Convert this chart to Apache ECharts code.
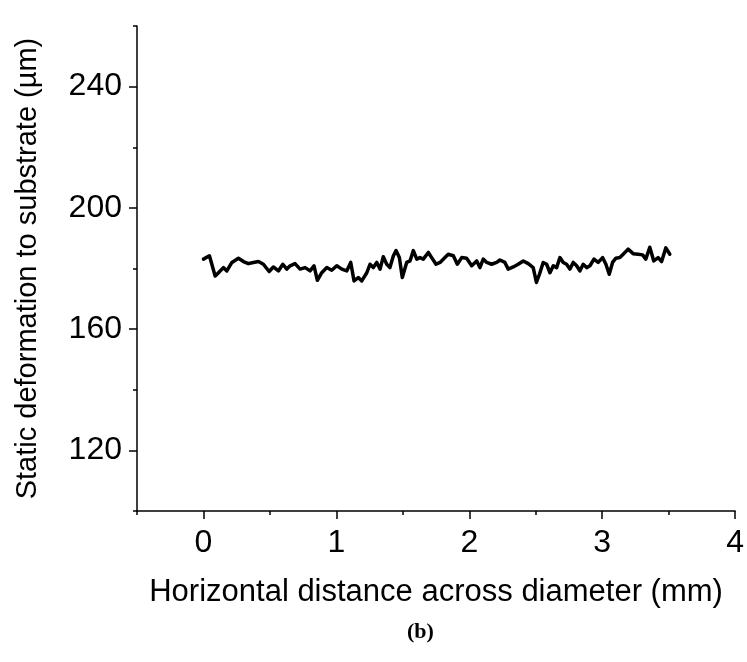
<!DOCTYPE html>
<html>
<head>
<meta charset="utf-8">
<script src="https://cdn.jsdelivr.net/npm/echarts@6/dist/echarts.min.js"></script>
<style>
html,body{margin:0;padding:0;background:#fff;}
#chart{width:747px;height:662px;}
</style>
</head>
<body>
<div id="chart"></div>
<script>
// Horizontal distance (mm)
const distance = [0.000,0.045,0.088,0.113,0.150,0.176,0.214,0.263,0.301,0.338,0.376,0.414,0.451,0.494,0.526,0.564,0.597,0.627,0.652,0.689,0.727,0.765,0.802,0.832,0.857,0.890,0.928,0.965,1.003,1.041,1.078,1.108,1.133,1.165,1.191,1.229,1.253,1.278,1.304,1.329,1.353,1.379,1.403,1.429,1.449,1.474,1.496,1.529,1.554,1.579,1.605,1.629,1.654,1.692,1.717,1.750,1.780,1.817,1.842,1.880,1.910,1.943,1.980,2.018,2.056,2.080,2.105,2.131,2.168,2.206,2.231,2.268,2.293,2.331,2.368,2.406,2.444,2.481,2.505,2.528,2.556,2.582,2.607,2.632,2.657,2.682,2.707,2.732,2.757,2.782,2.808,2.832,2.857,2.883,2.908,2.938,2.970,3.003,3.028,3.053,3.078,3.103,3.133,3.158,3.195,3.233,3.271,3.304,3.328,3.358,3.388,3.421,3.447,3.479,3.509];
// Static deformation to substrate (µm)
const deformation = [183.1,184.2,177.5,178.6,180.3,179.2,182.0,183.4,182.3,181.6,182.0,182.3,181.4,179.0,180.5,179.2,181.4,179.8,180.9,181.6,179.8,180.3,179.2,180.9,176.1,178.6,180.3,179.4,180.9,179.8,179.2,182.0,175.9,177.0,175.9,178.6,181.4,180.3,182.0,179.8,183.9,181.4,180.3,184.2,185.9,183.6,177.0,182.0,182.5,185.9,183.1,183.6,183.1,185.3,183.6,181.4,182.0,183.6,184.7,184.2,181.4,183.6,183.4,180.9,182.5,180.3,183.1,182.0,181.4,182.0,182.8,182.0,179.8,180.5,181.4,182.5,181.6,180.3,175.4,178.1,182.0,181.4,178.6,180.9,180.3,183.6,182.0,181.4,179.8,182.0,180.9,179.2,181.4,180.3,180.9,183.1,182.0,183.6,181.4,178.1,182.0,183.4,183.6,184.7,186.4,184.9,184.7,184.5,183.1,187.0,182.5,183.6,182.3,186.8,184.7];

const xMajorTicks = [0,1,2,3,4];
const xMinorTicks = [-0.5,0.5,1.5,2.5,3.5];
const yMajorTicks = [120,160,200,240];
const yMinorTicks = [100,140,180,220,260];

const FONT = 'Liberation Sans, Arial, sans-serif';
const points = distance.map((d,i)=>[d, deformation[i]]);

const chart = echarts.init(document.getElementById('chart'), null, {renderer:'canvas'});
const axisLineStyle = {color:'#000', width:1.5};
chart.setOption({
  animation:false,
  backgroundColor:'#fff',
  grid:{left:137, top:26, right:11, bottom:151, containLabel:false},
  xAxis:[{
    type:'value', min:-0.5, max:4,
    name:'Horizontal distance across diameter (mm)',
    nameLocation:'middle', nameGap:66,
    nameTextStyle:{fontFamily:FONT, fontSize:31, color:'#000'},
    axisLine:{show:true, onZero:false, lineStyle:axisLineStyle},
    axisTick:{show:true, inside:false, length:8, customValues:xMajorTicks, lineStyle:axisLineStyle},
    axisLabel:{show:true, customValues:xMajorTicks, margin:16, fontFamily:FONT, fontSize:32, color:'#000'},
    splitLine:{show:false}
  },{
    type:'value', min:-0.5, max:4, position:'bottom',
    axisLine:{show:false, onZero:false},
    axisTick:{show:true, inside:false, length:4, customValues:xMinorTicks, lineStyle:axisLineStyle},
    axisLabel:{show:false},
    splitLine:{show:false}
  }],
  yAxis:[{
    type:'value', min:100, max:260,
    name:'Static deformation to substrate (µm)',
    nameLocation:'middle', nameGap:95,
    nameTextStyle:{fontFamily:FONT, fontSize:29, color:'#000'},
    axisLine:{show:true, onZero:false, lineStyle:axisLineStyle},
    axisTick:{show:true, inside:false, length:8, customValues:yMajorTicks, lineStyle:axisLineStyle},
    axisLabel:{show:true, customValues:yMajorTicks, margin:15, fontFamily:FONT, fontSize:32, color:'#000'},
    splitLine:{show:false}
  },{
    type:'value', min:100, max:260, position:'left',
    axisLine:{show:false, onZero:false},
    axisTick:{show:true, inside:false, length:4, customValues:yMinorTicks, lineStyle:axisLineStyle},
    axisLabel:{show:false},
    splitLine:{show:false}
  }],
  graphic:[{
    type:'text', left:407, top:621,
    style:{text:'(b)', font:'bold 22px "Liberation Serif", "DejaVu Serif", serif', fill:'#000'}
  }],
  series:[{
    type:'line', xAxisIndex:0, yAxisIndex:0,
    data:points, showSymbol:false, symbol:'none',
    lineStyle:{color:'#000', width:3.5, join:'round', cap:'round'},
    smooth:false
  }]
});
</script>
</body>
</html>
